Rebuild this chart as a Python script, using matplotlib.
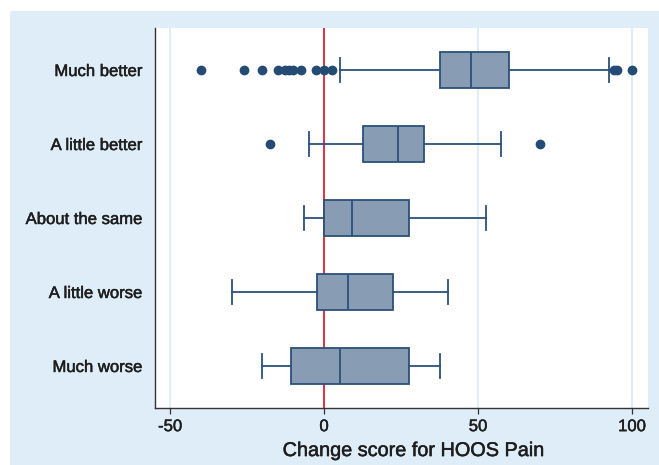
import numpy as np
import matplotlib
matplotlib.use('Agg')
import matplotlib.pyplot as plt
import matplotlib.patheffects as pe
from matplotlib.patches import Rectangle

#----------------------------------------------------data

categories = ['Much better', 'A little better', 'About the same', 'A little worse', 'Much worse']

whis_lo = [5.1, -4.9, -6.6, -30.0, -20.0]
q1      = [37.7, 12.8, 0.1, -2.4, -10.6]
median  = [47.6, 23.9, 9.2, 7.7, 5.1]
q3      = [60.0, 32.5, 27.5, 22.5, 27.5]
whis_hi = [92.6, 57.6, 52.5, 40.2, 37.7]

outliers = [
  [-40.0, -26.0, -20.0, -15.0, -12.7, -11.3, -10.0, -7.5, -2.7, 0.0, 2.6, 94.3, 95.0, 100.0],
  [-17.4, 70.0],
  [],
  [],
  [],
]

xticks = [-50, 0, 50, 100]

#----------------------------------------------------style

bg_blue = '#deedf8'
edge_col = '#2b5079'
fill_col = '#889db4'
dot_col = '#234b73'
txt_col = '#1e1e1e'
grid_col = '#d6e8f1'

plt.rcParams['font.family'] = ['Liberation Sans', 'DejaVu Sans']
heavy = [pe.withStroke(linewidth=0.35, foreground=txt_col)]

fig = plt.figure(figsize=(6.59, 4.65), dpi=100)
fig.patch.set_facecolor('white')
fig.patches.append(Rectangle((10/659, 0), 1 - 10/659, 1 - 11/465, transform=fig.transFigure,
                             facecolor=bg_blue, edgecolor='none', zorder=-10))

ax = fig.add_axes([155/659, 1 - 408/465, (648 - 155)/659, (408 - 28)/465])
ax.set_facecolor('white')

n = len(categories)
positions = list(range(n, 0, -1))

stats = []
for i in range(n):
  stats.append({'med': median[i], 'q1': q1[i], 'q3': q3[i],
                'whislo': whis_lo[i], 'whishi': whis_hi[i],
                'fliers': np.array(outliers[i]), 'label': categories[i]})

ax.bxp(stats, positions=positions, vert=False, widths=0.49, capwidths=0.33,
       patch_artist=True, manage_ticks=False,
       boxprops=dict(facecolor=fill_col, edgecolor=edge_col, linewidth=1.3),
       medianprops=dict(color=edge_col, linewidth=1.3),
       whiskerprops=dict(color=edge_col, linewidth=1.3),
       capprops=dict(color=edge_col, linewidth=1.3),
       flierprops=dict(marker='o', markerfacecolor=dot_col, markeredgecolor=dot_col, markersize=6))

for x in xticks:
  if x != 0:
    ax.axvline(x, color=grid_col, linewidth=1.1, zorder=0)
ax.axvline(0, color='#dc2038', linewidth=1.3, zorder=1)

ax.set_xlim(-54.9, 105.2)
ax.set_ylim(0.432, 5.568)
ax.set_xticks(xticks)
ax.set_xticklabels([str(x) for x in xticks], fontsize=12, color=txt_col)
ax.set_yticks(positions)
ax.set_yticklabels(categories, fontsize=12, color=txt_col)
ax.tick_params(axis='y', length=0, pad=9)
ax.tick_params(axis='x', length=4, width=0.9, color='#333333', pad=4)
for lab in ax.get_xticklabels() + ax.get_yticklabels():
  lab.set_path_effects(heavy)

for s in ['top', 'right']:
  ax.spines[s].set_visible(False)
for s in ['left', 'bottom']:
  ax.spines[s].set_color('#333333')
  ax.spines[s].set_linewidth(1.0)

xl = ax.set_xlabel('Change score for HOOS Pain', fontsize=14.3, color=txt_col, labelpad=5)
xl.set_x(0.525)
xl.set_path_effects(heavy)

fig.savefig('out.png', dpi=100, facecolor=fig.get_facecolor())
